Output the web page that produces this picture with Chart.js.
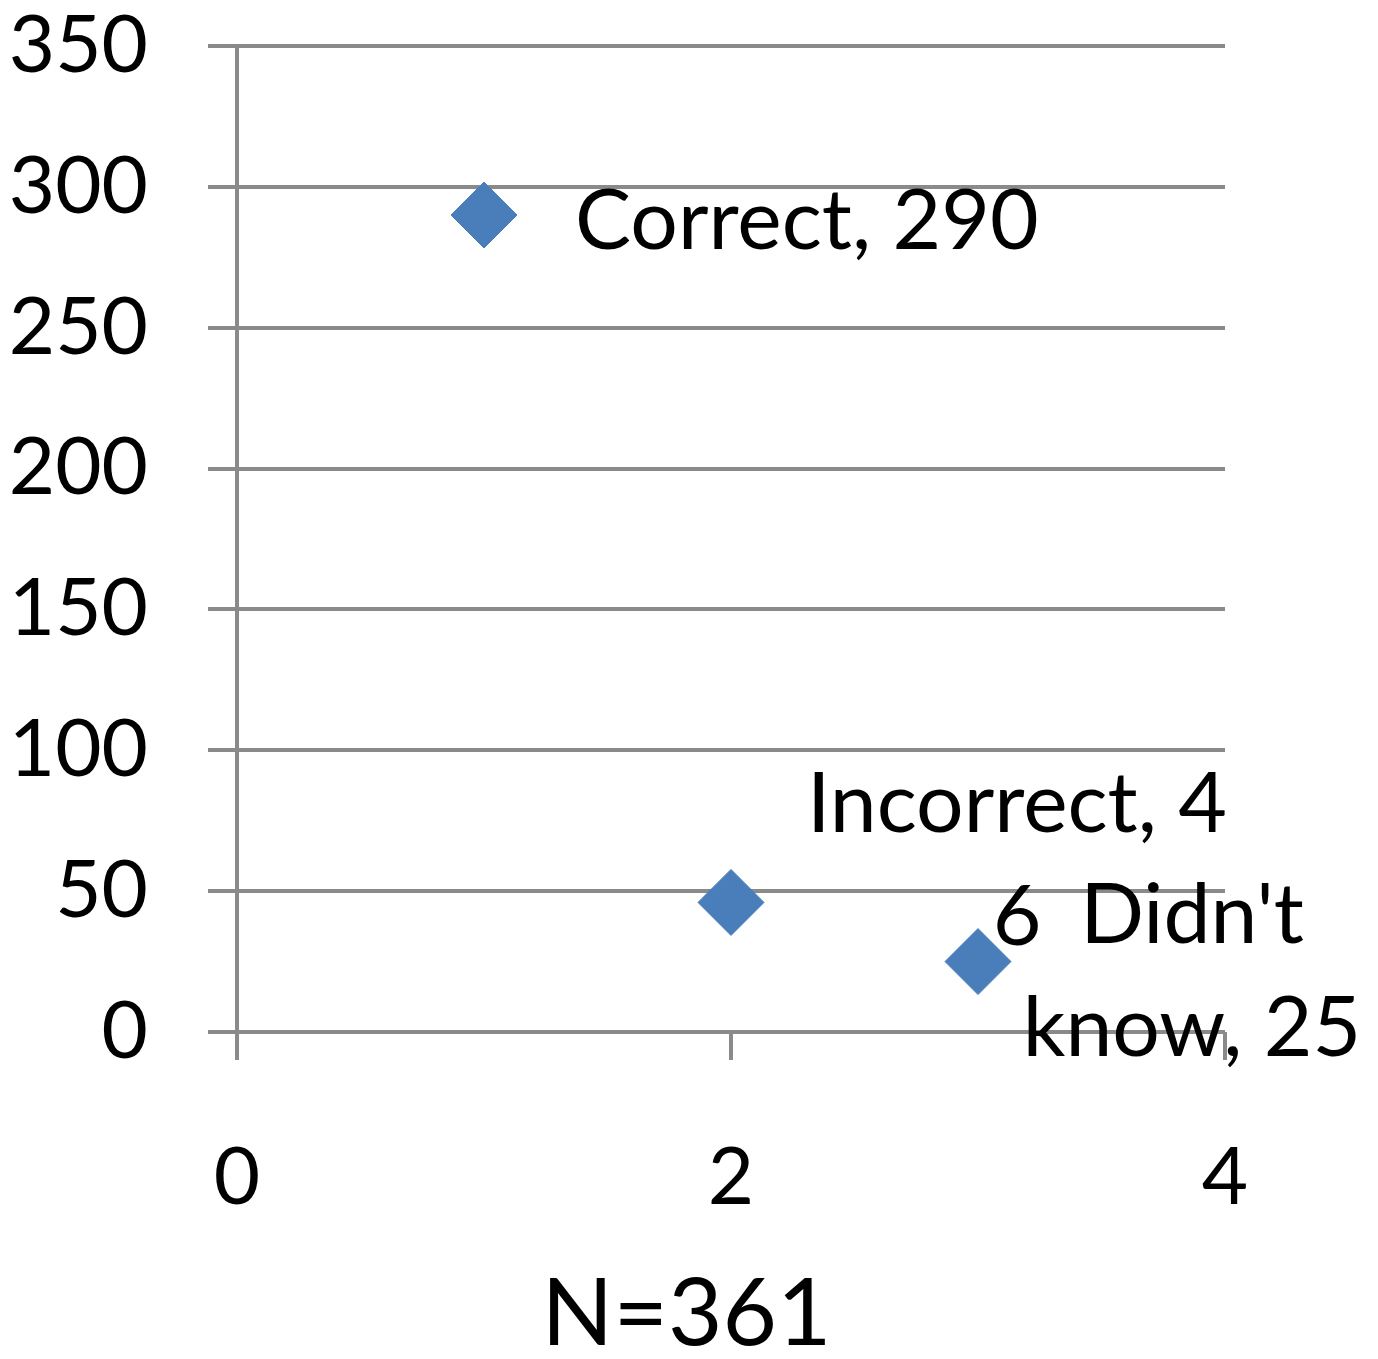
<!DOCTYPE html>
<html>
<head>
<meta charset="utf-8">
<title>Answers (N=361)</title>
<script src="https://cdn.jsdelivr.net/npm/chart.js@4/dist/chart.umd.min.js"></script>
<style>
  html, body { margin: 0; padding: 0; background: #ffffff; }
  #wrap { width: 1378px; height: 1359px; }
</style>
</head>
<body>
<div id="wrap"><canvas id="chart" width="1378" height="1359"></canvas></div>
<script>
// Answer categories, their x position and the number of respondents
const categories = ['Correct', 'Incorrect', "Didn't know"];
const xPositions = [1, 2, 3];
const counts = [290, 46, 25];
const sampleSize = 361;

// Axis ranges and tick steps
const xRange = [0, 4];
const xStep = 2;
const yRange = [0, 350];
const yStep = 50;

// Styling
const FONT = 'Lato, "Open Sans", sans-serif';
const TICK_SIZE = 80;
const LABEL_SIZE = 84;
const TITLE_SIZE = 94;
const LINE_GAP = 113;            // distance between wrapped label lines
const GRID = '#8a8a8a';
const MARKER = '#4a7ebb';

// Where each data label sits relative to its point
const labelLayout = [
  { align: 'left',   dx: 91,  dy: 4,   maxWidth: 0,   breakAnywhere: false },
  { align: 'center', dx: 286, dy: -44, maxWidth: 445, breakAnywhere: true },
  { align: 'center', dx: 214, dy: 8,   maxWidth: 400, breakAnywhere: false }
];

function wrapText(ctx, text, maxWidth, breakAnywhere) {
  if (!maxWidth) return [text];
  const lines = [];
  if (breakAnywhere) {
    let line = '';
    for (const ch of text) {
      if (line && ctx.measureText(line + ch).width > maxWidth) {
        lines.push(line.trimEnd());
        line = ch.trimStart();
      } else {
        line += ch;
      }
    }
    if (line) lines.push(line);
  } else {
    let line = '';
    for (const word of text.split(' ')) {
      const next = line ? line + ' ' + word : word;
      if (line && ctx.measureText(next).width > maxWidth) {
        lines.push(line);
        line = word;
      } else {
        line = next;
      }
    }
    if (line) lines.push(line);
  }
  return lines;
}

const annotations = {
  id: 'annotations',
  afterDatasetsDraw(chart) {
    const { ctx, chartArea } = chart;
    const meta = chart.getDatasetMeta(0);
    ctx.save();
    ctx.fillStyle = '#000000';
    ctx.font = `${LABEL_SIZE}px ${FONT}`;
    ctx.textBaseline = 'alphabetic';
    const cap = LABEL_SIZE * 0.72;
    meta.data.forEach((pt, i) => {
      const lay = labelLayout[i];
      const text = `${categories[i]}, ${counts[i]}`;
      const lines = wrapText(ctx, text, lay.maxWidth, lay.breakAnywhere);
      const cx = pt.x + lay.dx;
      const cy = pt.y + lay.dy;
      ctx.textAlign = lay.align;
      lines.forEach((line, k) => {
        const base = cy + (k - (lines.length - 1) / 2) * LINE_GAP + cap / 2;
        ctx.fillText(line, cx, base);
      });
    });

    // horizontal axis caption
    ctx.font = `${TITLE_SIZE}px ${FONT}`;
    ctx.textAlign = 'center';
    const tx = chartArea.left + (chartArea.right - chartArea.left) * 0.455;
    ctx.fillText(`N=${sampleSize}`, tx, chartArea.bottom + 313);
    ctx.restore();
  }
};

new Chart(document.getElementById('chart'), {
  type: 'scatter',
  data: {
    datasets: [{
      label: 'Answers',
      data: xPositions.map((x, i) => ({ x, y: counts[i] })),
      pointStyle: 'rectRot',
      pointRadius: 33,
      pointHoverRadius: 33,
      backgroundColor: MARKER,
      borderColor: MARKER,
      borderWidth: 1
    }]
  },
  options: {
    responsive: false,
    animation: false,
    events: [],
    layout: { padding: { top: 46, right: 153, bottom: 0, left: 0 } },
    plugins: {
      legend: { display: false },
      tooltip: { enabled: false }
    },
    scales: {
      x: {
        type: 'linear',
        min: xRange[0],
        max: xRange[1],
        afterFit(scale) {
          scale.height = 327;
          scale.paddingLeft = 0;
          scale.paddingRight = 0;
        },
        ticks: {
          stepSize: xStep,
          color: '#000000',
          padding: 78,
          maxRotation: 0,
          font: { family: FONT, size: TICK_SIZE, lineHeight: 1 }
        },
        grid: {
          drawOnChartArea: false,
          drawTicks: true,
          tickLength: 28,
          color: GRID,
          lineWidth: 4
        },
        border: { display: false }
      },
      y: {
        min: yRange[0],
        max: yRange[1],
        afterFit(scale) {
          scale.width = 237;
          scale.paddingTop = 0;
          scale.paddingBottom = 0;
        },
        ticks: {
          stepSize: yStep,
          color: '#000000',
          padding: 60,
          font: { family: FONT, size: TICK_SIZE, lineHeight: 1 }
        },
        grid: {
          drawTicks: true,
          tickLength: 29,
          color: GRID,
          lineWidth: 4
        },
        border: { display: true, color: GRID, width: 4 }
      }
    }
  },
  plugins: [annotations]
});
</script>
</body>
</html>
